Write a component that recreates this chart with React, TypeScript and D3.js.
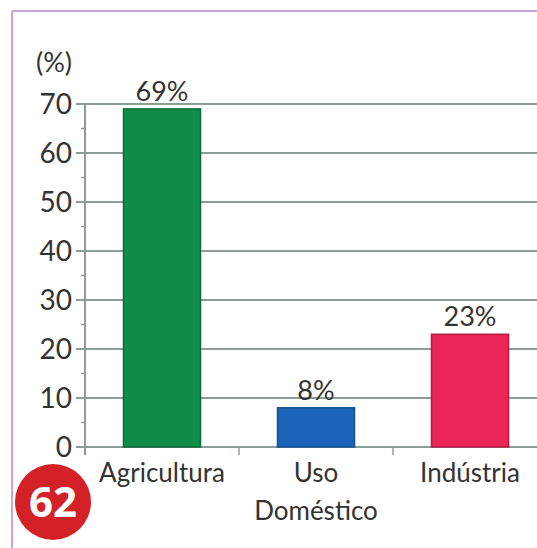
import React from "react";
import * as d3 from "d3";

const categories = ["Agricultura", "Uso Doméstico", "Indústria"];
const labelLines = [["Agricultura"], ["Uso", "Doméstico"], ["Indústria"]];
const values = [69, 8, 23];
const valueLabels = ["69%", "8%", "23%"];
const barColors = ["#0e8c48", "#1b63b8", "#ec2558"];
const barStrokes = ["#0a6b36", "#174f8f", "#b81a43"];
const yTicks = [0, 10, 20, 30, 40, 50, 60, 70];
const minorTicks = [5, 15, 25, 35, 45, 55, 65];

const W = 537;
const H = 548;
const font = "Lato, 'Open Sans', sans-serif";

export default function App() {
  const x = d3.scaleBand<string>().domain(categories).range([85, 547]).paddingInner(0.5).paddingOuter(0.25);
  const band = d3.scaleBand<string>().domain(categories).range([85, 547]);
  const y = d3.scaleLinear().domain([0, 70]).range([447, 104]);

  return (
    <svg
      width={W}
      height={H}
      style={{ position: "absolute", left: 0, top: 0, background: "#fff" }}
    >
      {/* frame */}
      <line x1={12} x2={W} y1={11} y2={11} stroke="#c9a3d9" strokeWidth={2} />
      <line x1={12} x2={12} y1={11} y2={H} stroke="#c9a3d9" strokeWidth={2} />

      {/* grid */}
      {yTicks.map((t) => (
        <g key={t}>
          <line x1={76} x2={W} y1={y(t)} y2={y(t)} stroke="#8c9c99" strokeWidth={2} />
          <text
            x={72}
            y={y(t)}
            dy="0.36em"
            textAnchor="end"
            fontFamily={font}
            fontSize={28}
            fill="#333"
          >
            {t}
          </text>
        </g>
      ))}
      {minorTicks.map((t) => (
        <line key={t} x1={81} x2={85} y1={y(t)} y2={y(t)} stroke="#8c9c99" strokeWidth={1.5} />
      ))}
      <line x1={85} x2={85} y1={y(70)} y2={455} stroke="#8c9c99" strokeWidth={2} />
      {categories.slice(1).map((c) => (
        <line key={c} x1={band(c)!} x2={band(c)!} y1={447} y2={455} stroke="#8c9c99" strokeWidth={1.5} />
      ))}

      <text x={72} y={72} textAnchor="end" fontFamily={font} fontSize={27} fill="#333">
        (%)
      </text>

      {/* bars */}
      {categories.map((c, i) => (
        <g key={c}>
          <rect
            x={x(c)!}
            y={y(values[i])}
            width={x.bandwidth()}
            height={y(0) - y(values[i])}
            fill={barColors[i]}
            stroke={barStrokes[i]}
            strokeWidth={1.5}
          />
          <text
            x={x(c)! + x.bandwidth() / 2}
            y={y(values[i]) - 8}
            textAnchor="middle"
            fontFamily={font}
            fontSize={27}
            fill="#333"
          >
            {valueLabels[i]}
          </text>
          {labelLines[i].map((ln, j) => (
            <text
              key={ln}
              x={x(c)! + x.bandwidth() / 2}
              y={482 + j * 38}
              textAnchor="middle"
              fontFamily={font}
              fontSize={26}
              fill="#333"
            >
              {ln}
            </text>
          ))}
        </g>
      ))}

      {/* page badge */}
      <circle cx={53} cy={502} r={38} fill="#d42128" />
      <text
        x={53}
        y={502}
        dy="0.36em"
        textAnchor="middle"
        fontFamily="'Open Sans', sans-serif"
        fontWeight={700}
        fontSize={42}
        fill="#fff"
      >
        62
      </text>
    </svg>
  );
}
